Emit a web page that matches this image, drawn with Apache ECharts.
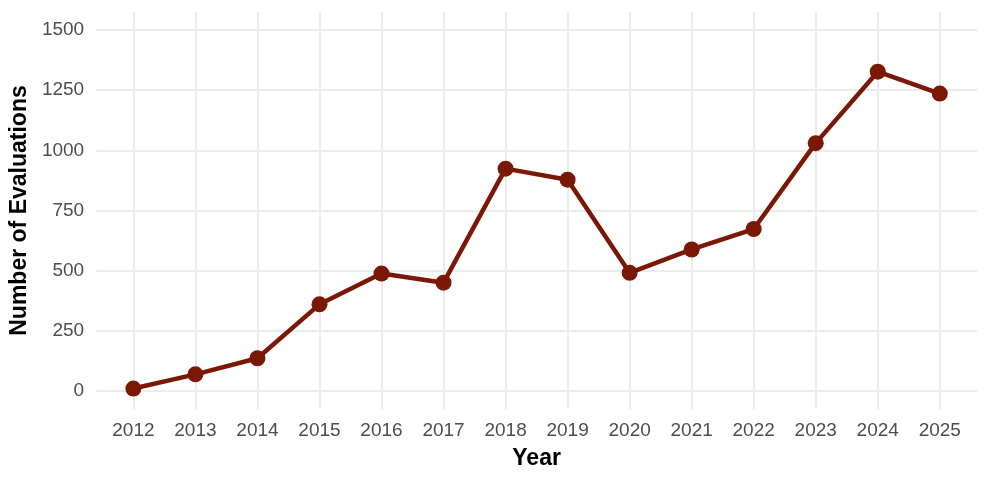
<!DOCTYPE html>
<html>
<head>
<meta charset="utf-8">
<script src="https://cdn.jsdelivr.net/npm/echarts@6/dist/echarts.min.js"></script>
<style>
html,body{margin:0;padding:0;background:#fff;}
#chart{width:990px;height:481px;}
</style>
</head>
<body>
<div id="chart"></div>
<script>
const years = [2012,2013,2014,2015,2016,2017,2018,2019,2020,2021,2022,2023,2024,2025];
const evaluations = [10,69,136,360,488,450,924,878,491,588,673,1030,1327,1236];
const yTicks = [0,250,500,750,1000,1250,1500];

const chart = echarts.init(document.getElementById('chart'), null, {renderer:'canvas'});
const fontFam = '"Liberation Sans", Arial, sans-serif';
chart.setOption({
  animation:false,
  backgroundColor:'#ffffff',
  grid:{left:95, right:13, top:12, bottom:72, containLabel:false},
  xAxis:{
    type:'value',
    min:2011.4, max:2025.6,
    name:'Year', nameLocation:'middle', nameGap:38,
    nameTextStyle:{fontFamily:fontFam, fontSize:23, fontWeight:'bold', color:'#000'},
    axisLine:{show:false},
    axisTick:{show:false, customValues:years},
    axisLabel:{customValues:years, fontFamily:fontFam, fontSize:19, color:'#4d4d4d', margin:12, formatter:v=>String(v)},
    splitLine:{show:true, lineStyle:{color:'#ebebeb', width:2}}
  },
  yAxis:{
    type:'value',
    min:-75, max:1575,
    name:'Number of Evaluations', nameLocation:'middle', nameGap:58, nameRotate:90,
    nameTextStyle:{fontFamily:fontFam, fontSize:23, fontWeight:'bold', color:'#000'},
    axisLine:{show:false},
    axisTick:{show:false, customValues:yTicks},
    axisLabel:{customValues:yTicks, fontFamily:fontFam, fontSize:19, color:'#4d4d4d', margin:12, formatter:v=>String(v)},
    splitLine:{show:true, lineStyle:{color:'#ebebeb', width:2}}
  },
  series:[{
    type:'line',
    data:years.map((y,i)=>[y,evaluations[i]]),
    symbol:'circle', symbolSize:16,
    lineStyle:{color:'#7a1705', width:4.5},
    itemStyle:{color:'#7a1705'},
    z:3
  }]
});
</script>
</body>
</html>
